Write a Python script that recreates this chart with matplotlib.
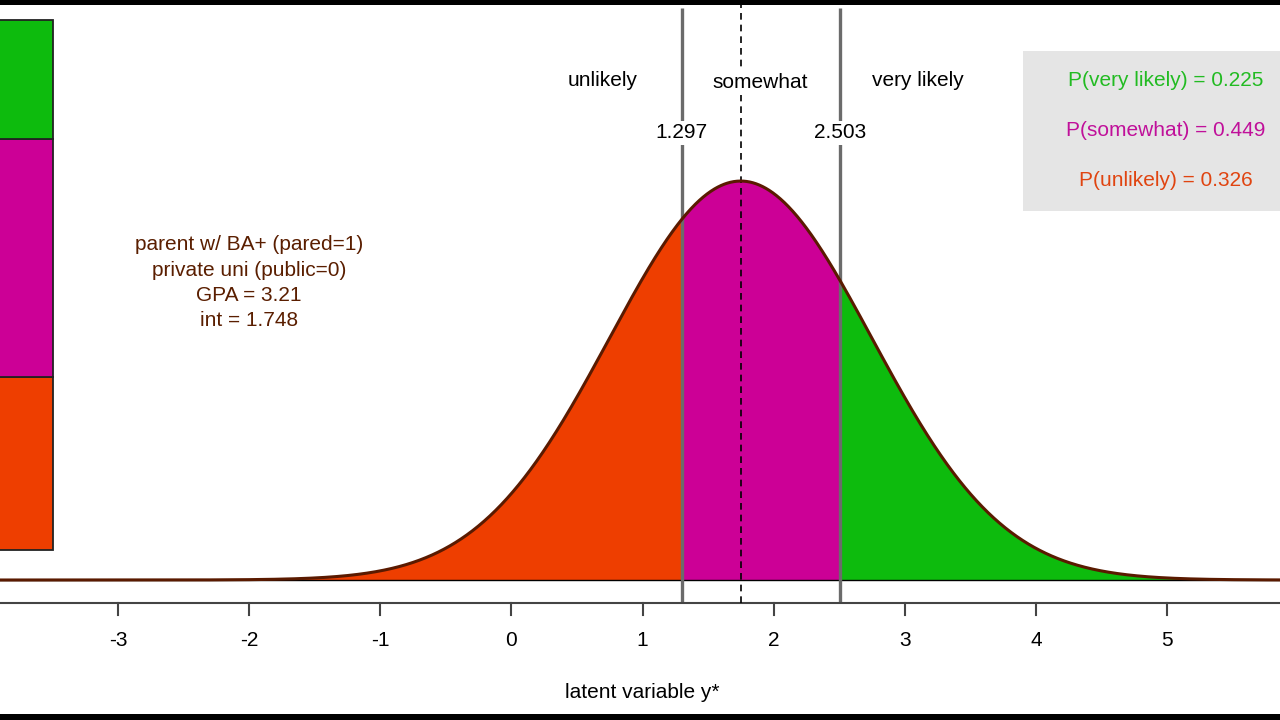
import numpy as np
import matplotlib
matplotlib.use("Agg")
import matplotlib.pyplot as plt
from matplotlib.patches import Rectangle

plt.rcParams['font.family'] = ['Liberation Sans', 'DejaVu Sans']

# --- data ---
mean_latent = 1.748
cutpoints = [1.297, 2.503]
cut_labels = ["1.297", "2.503"]
categories = ["unlikely", "somewhat", "very likely"]
probs = [0.326, 0.449, 0.225]
cat_colors = ["#EE3E00", "#CC0096", "#0DBB0D"]
text_colors = ["#E04410", "#C0109A", "#22BB22"]
info_lines = ["parent w/ BA+ (pared=1)", "private uni (public=0)", "GPA = 3.21", "int = 1.748"]
xticks = [-3, -2, -1, 0, 1, 2, 3, 4, 5]
xlabel = "latent variable y*"

XMIN, XMAX = -3.9, 5.86
YMIN, YMAX = -0.14, 0.58
FS = 15

fig = plt.figure(figsize=(12.8, 7.2), dpi=100)
ax = fig.add_axes([0, 0, 1, 1])
ax.set_xlim(XMIN, XMAX)
ax.set_ylim(YMIN, YMAX)
ax.axis('off')

x = np.linspace(XMIN, XMAX, 2000)
pdf = np.exp(-0.5 * (x - mean_latent) ** 2) / np.sqrt(2 * np.pi)

# fills
edges = [XMIN] + cutpoints + [XMAX]
for i in range(3):
    m = (x >= edges[i]) & (x <= edges[i + 1])
    xs = np.concatenate([[edges[i]], x[m], [edges[i + 1]]])
    ys = np.exp(-0.5 * (xs - mean_latent) ** 2) / np.sqrt(2 * np.pi)
    ax.fill_between(xs, 0, ys, color=cat_colors[i], lw=0, zorder=2)

# baseline
ax.plot([XMIN, XMAX], [0, 0], color="black", lw=1.0, zorder=3)

# cutpoint lines
axis_y = -0.023
for c, lab in zip(cutpoints, cut_labels):
    ax.plot([c, c], [axis_y, 0.572], color="#6b6b6b", lw=2.4, zorder=3, solid_capstyle='butt')
    ax.text(c, 0.447, lab, ha="center", va="center", fontsize=FS, color="black", zorder=6,
            bbox=dict(facecolor="white", edgecolor="none", pad=2))

# mean dashed line
ax.plot([mean_latent, mean_latent], [axis_y, 0.58], color="black", lw=1.2,
        ls=(0, (4, 3)), zorder=4)

# curve
ax.plot(x, pdf, color="#5A1A00", lw=2.2, zorder=5)

# category labels
cat_x = [0.695, 1.90, 3.10]
cat_y = [0.499, 0.497, 0.499]
for cx, cy, name in zip(cat_x, cat_y, categories):
    ax.text(cx, cy, name, ha="center", va="center", fontsize=FS, color="black", zorder=6,
            bbox=dict(facecolor="white", edgecolor="none", pad=2))

# x axis
ax.plot([XMIN, XMAX], [axis_y, axis_y], color="#444444", lw=1.5, zorder=3)
for t in xticks:
    ax.plot([t, t], [axis_y, -0.035], color="#444444", lw=1.5, zorder=3)
    ax.text(t, -0.061, str(t), ha="center", va="center", fontsize=FS, color="black")
ax.text(1.0, -0.113, xlabel, ha="center", va="center", fontsize=FS, color="black")

# stacked bar (left)
bar_x0, bar_w = XMIN - 0.1, 0.405 + 0.1
bottom = 0.03
total_h = 0.53
for p, col in zip(probs, cat_colors):
    h = p * total_h
    ax.add_patch(Rectangle((bar_x0, bottom), bar_w, h, facecolor=col,
                           edgecolor="#222222", lw=1.3, zorder=4))
    bottom += h

# info text
for i, line in enumerate(info_lines):
    ax.text(-2.0, 0.335 - i * 0.0253, line, ha="center", va="center", fontsize=FS,
            color="#5A1E00")

# probability box
ax.add_patch(Rectangle((3.90, 0.369), 2.0, 0.160, facecolor="#E5E5E5",
                       edgecolor="none", zorder=4))
prob_names = ["very likely", "somewhat", "unlikely"]
prob_vals = [probs[2], probs[1], probs[0]]
prob_cols = [text_colors[2], text_colors[1], text_colors[0]]
for i, (n, v, col) in enumerate(zip(prob_names, prob_vals, prob_cols)):
    ax.text(4.99, 0.499 - i * 0.050, f"P({n}) = {v:.3f}", ha="center", va="center",
            fontsize=FS, color=col, zorder=5)

# black frame bars (top/bottom)
fig.patches.append(Rectangle((0, 1 - 5 / 720), 1, 5 / 720, transform=fig.transFigure,
                             facecolor="black", edgecolor="none", zorder=10))
fig.patches.append(Rectangle((0, 0), 1, 6 / 720, transform=fig.transFigure,
                             facecolor="black", edgecolor="none", zorder=10))

fig.savefig("out.png", dpi=100, facecolor="white")
